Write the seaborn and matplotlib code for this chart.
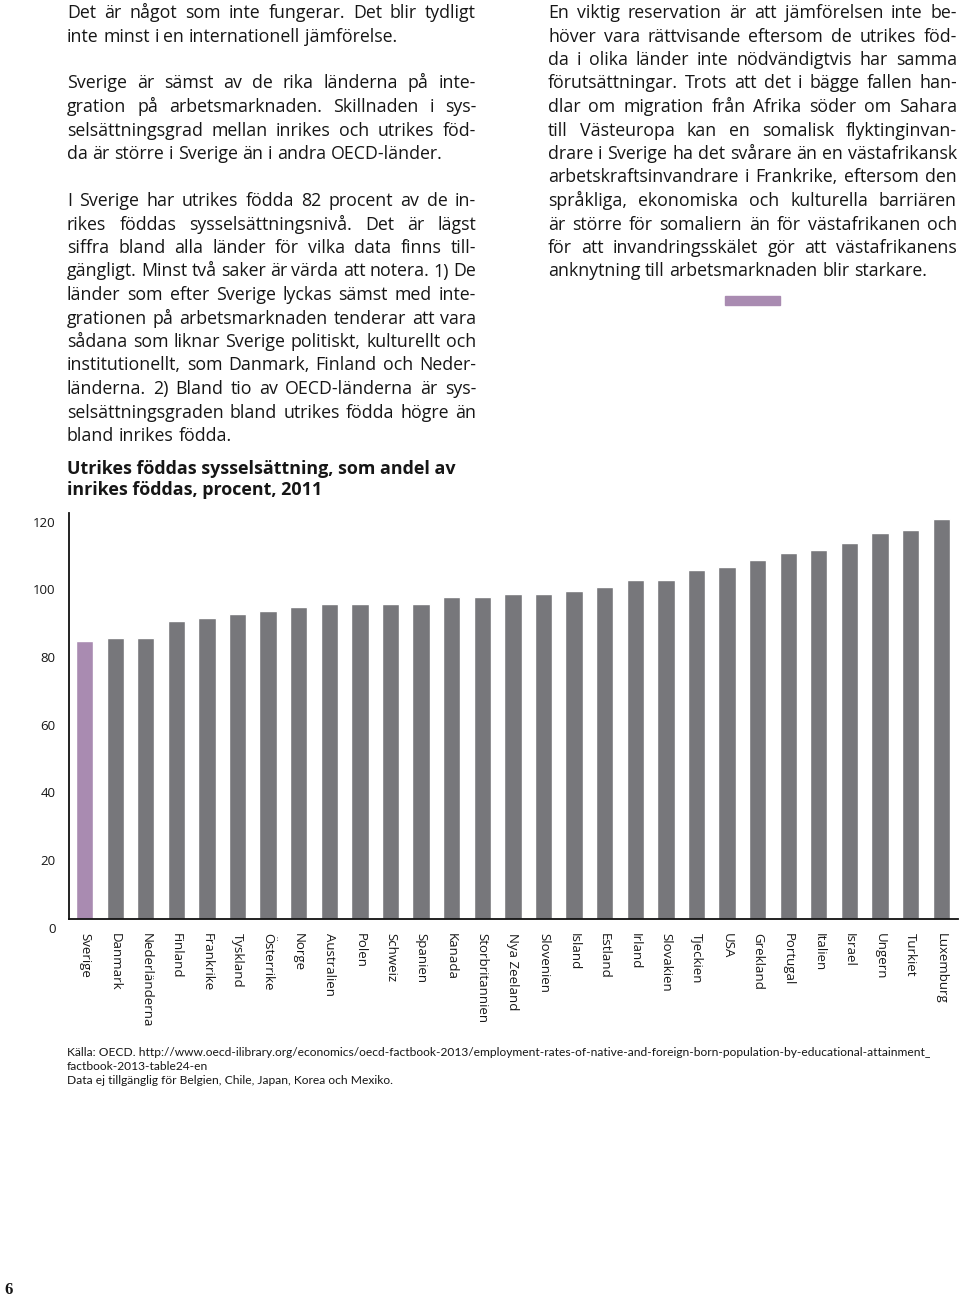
"""Utrikes föddas sysselsättning som andel av inrikes föddas, OECD 2011."""

import matplotlib
matplotlib.use("Agg")
import matplotlib.pyplot as plt
import matplotlib.transforms as mtransforms
from matplotlib.patches import Rectangle
import seaborn as sns

W, H = 960, 1299

countries = [
    "Sverige", "Danmark", "Nederländerna", "Finland", "Frankrike", "Tyskland",
    "Österrike", "Norge", "Australien", "Polen", "Schweiz", "Spanien", "Kanada",
    "Storbritannien", "Nya Zeeland", "Slovenien", "Island", "Estland", "Irland",
    "Slovakien", "Tjeckien", "USA", "Grekland", "Portugal", "Italien", "Israel",
    "Ungern", "Turkiet", "Luxemburg",
]
values = [82, 83, 83, 88, 89, 90, 91, 92, 93, 93, 93, 93, 95, 95, 96, 96, 97,
          98, 100, 100, 103, 104, 106, 108, 109, 111, 114, 115, 118]
y_ticks = [0, 20, 40, 60, 80, 100, 120]

title = "Utrikes föddas sysselsättning, som andel av\ninrikes föddas, procent, 2011"

left_paragraphs = [
    ["Det är något som inte fungerar. Det blir tydligt",
     "inte minst i en internationell jämförelse."],
    ["Sverige är sämst av de rika länderna på inte-",
     "gration på arbetsmarknaden. Skillnaden i sys-",
     "selsättningsgrad mellan inrikes och utrikes föd-",
     "da är större i Sverige än i andra OECD-länder."],
    ["I Sverige har utrikes födda 82 procent av de in-",
     "rikes föddas sysselsättningsnivå. Det är lägst",
     "siffra bland alla länder för vilka data finns till-",
     "gängligt. Minst två saker är värda att notera. 1) De",
     "länder som efter Sverige lyckas sämst med inte-",
     "grationen på arbetsmarknaden tenderar att vara",
     "sådana som liknar Sverige politiskt, kulturellt och",
     "institutionellt, som Danmark, Finland och Neder-",
     "länderna. 2) Bland tio av OECD-länderna är sys-",
     "selsättningsgraden bland utrikes födda högre än",
     "bland inrikes födda."],
]
right_paragraphs = [
    ["En viktig reservation är att jämförelsen inte be-",
     "höver vara rättvisande eftersom de utrikes föd-",
     "da i olika länder inte nödvändigtvis har samma",
     "förutsättningar. Trots att det i bägge fallen han-",
     "dlar om migration från Afrika söder om Sahara",
     "till Västeuropa kan en somalisk flyktinginvan-",
     "drare i Sverige ha det svårare än en västafrikansk",
     "arbetskraftsinvandrare i Frankrike, eftersom den",
     "språkliga, ekonomiska och kulturella barriären",
     "är större för somaliern än för västafrikanen och",
     "för att invandringsskälet gör att västafrikanens",
     "anknytning till arbetsmarknaden blir starkare."],
]
source_lines = [
    "Källa: OECD. http://www.oecd-ilibrary.org/economics/oecd-factbook-2013/"
    "employment-rates-of-native-and-foreign-born-population-by-educational-attainment_",
    "factbook-2013-table24-en",
    "Data ej tillgänglig för Belgien, Chile, Japan, Korea och Mexiko.",
]

GREY = "#77777b"
PURPLE = "#a98bb1"
INK = "#161616"
BODY_FONT = ["Open Sans", "DejaVu Sans"]


def fx(px):
    return px / W


def fy(py):
    return 1 - py / H


def justified_block(fig, paragraphs, x0, x1, y0, step, **kw):
    """Skriver stycken med marginaljustering, sista raden vänsterställd.

    y0 är baslinjen för första raden, i pixlar uppifrån.
    """
    renderer = fig.canvas.get_renderer()
    space = fig.text(0, 0, "a a", **kw)
    nospace = fig.text(0, 0, "aa", **kw)
    sp = space.get_window_extent(renderer).width - nospace.get_window_extent(renderer).width
    space.remove()
    nospace.remove()

    y = y0
    for para in paragraphs:
        for i, line in enumerate(para):
            words = line.split(" ")
            texts = [fig.text(0, fy(y), w, va="baseline", ha="left", **kw) for w in words]
            widths = [t.get_window_extent(renderer).width for t in texts]
            last = i == len(para) - 1
            if last or len(words) == 1:
                gap = sp
            else:
                gap = max((x1 - x0 - sum(widths)) / (len(words) - 1), sp * 0.4)
            x = x0
            for t, w in zip(texts, widths):
                t.set_x(fx(x))
                x += w + gap
            y += step
        y += step


sns.set_theme(style="white")
plt.rcParams["font.family"] = BODY_FONT

fig = plt.figure(figsize=(W / 100, H / 100), dpi=100)
ax = fig.add_axes([fx(69.3), fy(918.7), fx(958) - fx(69.3), fy(512.7) - fy(918.7)])

palette = [PURPLE] + [GREY] * (len(countries) - 1)
sns.barplot(x=countries, y=values, hue=countries, palette=palette, legend=False,
            width=0.567, saturation=1, ax=ax)

ax.set_xlim(-0.5, 28.55)
ax.set_ylim(0, 120)
ax.set_yticks(y_ticks)
ax.set_yticklabels([str(v) for v in y_ticks])
ax.set_xticks(range(len(countries)))
ax.set_xticklabels(countries, rotation=270, ha="center", va="top")
ax.tick_params(axis="both", length=0, labelsize=9.5, colors=INK)
ax.tick_params(axis="y", pad=10)
ax.tick_params(axis="x", pad=10)
ax.set_xlabel("")
ax.set_ylabel("")
sns.despine(ax=ax)
for side in ("left", "bottom"):
    ax.spines[side].set_color("#111111")
    ax.spines[side].set_linewidth(1.3)

# siffrorna på y-axeln sitter lite under sina värden i originalet
shift = mtransforms.ScaledTranslation(0, -9 / 100, fig.dpi_scale_trans)
for lab in ax.get_yticklabels():
    lab.set_transform(lab.get_transform() + shift)

fig.text(fx(67), fy(479.5), title, fontsize=12.9, fontweight="bold", color=INK,
         va="center", ha="left", linespacing=1.25)

body_kw = dict(fontsize=12.8, color=INK)
justified_block(fig, left_paragraphs, 67, 476, 18, 23.5, **body_kw)
justified_block(fig, right_paragraphs, 548, 957, 18, 23.5, **body_kw)

fig.patches.append(Rectangle((fx(725), fy(305)), fx(55), fy(296) - fy(305),
                             transform=fig.transFigure, color=PURPLE))

for i, line in enumerate(source_lines):
    fig.text(fx(67), fy(1052 + 14 * i), line, fontsize=8.65, color=INK,
             family=["Lato", "DejaVu Sans"], va="center", ha="left")

fig.text(fx(4), fy(1290), "6", fontsize=12, fontweight="bold", color=INK,
         family=["Liberation Serif", "DejaVu Serif"], va="center", ha="left")

fig.savefig("out.png", dpi=100)
plt.close(fig)
